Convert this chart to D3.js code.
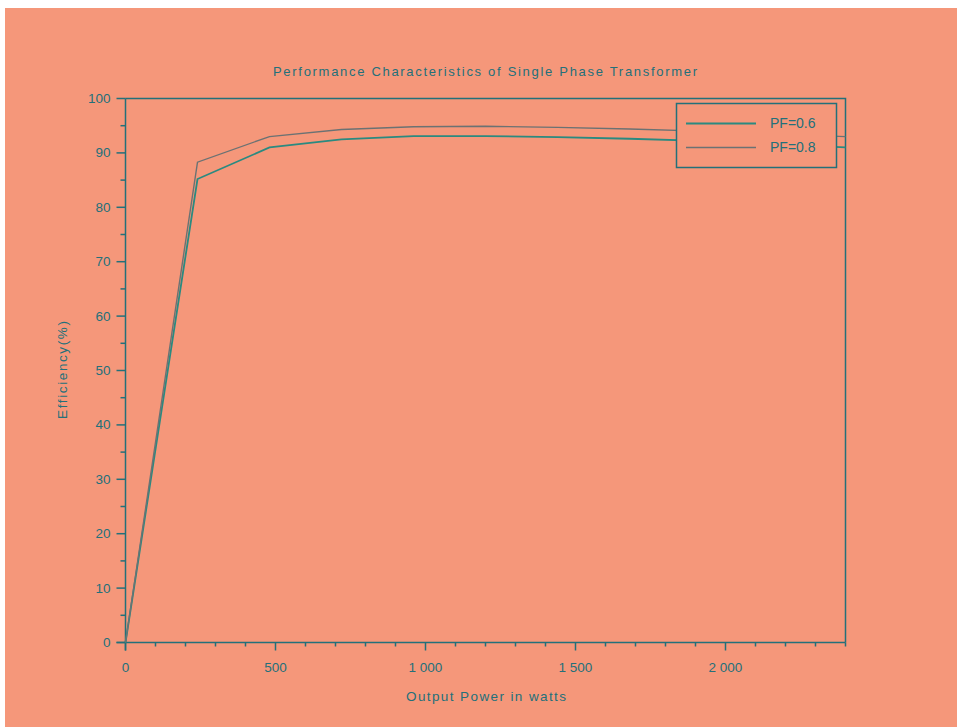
<!DOCTYPE html>
<html>
<head>
<meta charset="utf-8">
<script src="https://cdn.jsdelivr.net/npm/d3@7/dist/d3.min.js"></script>
<style>
  html, body { margin: 0; padding: 0; background: #ffffff; }
  svg { display: block; }
  text { font-family: "Liberation Sans", Arial, sans-serif; fill: #23707a; }
</style>
</head>
<body>
<script>
// ---- data ----
const outputPower = [0, 240, 480, 720, 960, 1200, 1440, 1680, 1920, 2160, 2400];
const effPF06 = [0, 85.2, 91.0, 92.5, 93.1, 93.1, 92.9, 92.6, 92.2, 91.6, 91.0];
const effPF08 = [0, 88.3, 93.0, 94.3, 94.8, 94.9, 94.7, 94.4, 94.0, 93.5, 93.0];
const seriesNames = ["PF=0.6", "PF=0.8"];
const xTicks = [0, 500, 1000, 1500, 2000];
const xTickLabels = ["0", "500", "1 000", "1 500", "2 000"];
const yTicks = [0, 10, 20, 30, 40, 50, 60, 70, 80, 90, 100];
const yTickLabels = ["0", "10", "20", "30", "40", "50", "60", "70", "80", "90", "100"];
const titleText = "Performance Characteristics of Single Phase Transformer";
const xLabelText = "Output Power in watts";
const yLabelText = "Efficiency(%)";

// ---- layout ----
const W = 957, H = 727;
const ink = "#23707a";
const colors = ["#2a8a80", "#6b7273"];
const plot = { left: 125.5, right: 845.5, top: 98.5, bottom: 642.5 };

const svg = d3.select("body").append("svg").attr("width", W).attr("height", H);
svg.append("rect").attr("x", 5).attr("y", 8).attr("width", W - 5).attr("height", H - 8).attr("fill", "#f5977a");

const x = d3.scaleLinear().domain([0, 2400]).range([plot.left, plot.right]);
const y = d3.scaleLinear().domain([0, 100]).range([plot.bottom, plot.top]);

// frame (top and right)
svg.append("path")
  .attr("d", `M${plot.left},${plot.top}H${plot.right}V${plot.bottom}`)
  .attr("fill", "none").attr("stroke", ink).attr("stroke-width", 1.5);

// x axis
const gx = svg.append("g").attr("transform", `translate(0,${plot.bottom})`);
gx.append("line").attr("x1", plot.left - 9).attr("x2", plot.right).attr("y1", 0).attr("y2", 0)
  .attr("stroke", ink).attr("stroke-width", 1.5);
const xMinor = d3.range(0, 2401, 100).filter(v => v % 500 !== 0);
gx.selectAll("line.minor").data(xMinor).join("line").attr("class", "minor")
  .attr("x1", d => x(d)).attr("x2", d => x(d)).attr("y1", 0).attr("y2", 4)
  .attr("stroke", ink).attr("stroke-width", 1.5);
gx.selectAll("line.major").data(xTicks).join("line").attr("class", "major")
  .attr("x1", d => x(d)).attr("x2", d => x(d)).attr("y1", 0).attr("y2", 8)
  .attr("stroke", ink).attr("stroke-width", 1.5);
gx.selectAll("text").data(xTicks).join("text")
  .attr("x", d => x(d)).attr("y", 29).attr("text-anchor", "middle")
  .attr("font-size", 13.5).text((d, i) => xTickLabels[i]);

// y axis
const gy = svg.append("g").attr("transform", `translate(${plot.left},0)`);
gy.append("line").attr("x1", 0).attr("x2", 0).attr("y1", plot.top).attr("y2", plot.bottom + 8)
  .attr("stroke", ink).attr("stroke-width", 1.5);
const yMinor = d3.range(5, 100, 10);
gy.selectAll("line.minor").data(yMinor).join("line").attr("class", "minor")
  .attr("x1", -5).attr("x2", 0).attr("y1", d => y(d)).attr("y2", d => y(d))
  .attr("stroke", ink).attr("stroke-width", 1.5);
gy.selectAll("line.major").data(yTicks).join("line").attr("class", "major")
  .attr("x1", -9).attr("x2", 0).attr("y1", d => y(d)).attr("y2", d => y(d))
  .attr("stroke", ink).attr("stroke-width", 1.5);
gy.selectAll("text").data(yTicks).join("text")
  .attr("x", -15).attr("y", d => y(d) + 4.5).attr("text-anchor", "end")
  .attr("font-size", 13.5).text((d, i) => yTickLabels[i]);

// lines
const line = d3.line().x((d, i) => x(outputPower[i])).y(d => y(d));
[effPF06, effPF08].forEach((s, k) => {
  svg.append("path").datum(s).attr("d", line)
    .attr("fill", "none").attr("stroke", colors[k]).attr("stroke-width", k === 0 ? 1.8 : 1.4);
});

// title and labels
svg.append("text").attr("x", 485).attr("y", 76).attr("text-anchor", "middle")
  .attr("font-size", 13).attr("textLength", 424).attr("lengthAdjust", "spacing").text(titleText);
svg.append("text").attr("x", 486).attr("y", 701).attr("text-anchor", "middle")
  .attr("font-size", 13.5).attr("textLength", 160).attr("lengthAdjust", "spacing").text(xLabelText);
svg.append("text").attr("transform", "translate(67,370) rotate(-90)").attr("text-anchor", "middle")
  .attr("font-size", 13.5).attr("textLength", 98).attr("lengthAdjust", "spacing").text(yLabelText);

// legend
const lg = svg.append("g");
lg.append("rect").attr("x", 676.5).attr("y", 103.5).attr("width", 160).attr("height", 64)
  .attr("fill", "#f5977a").attr("stroke", ink).attr("stroke-width", 1.5);
seriesNames.forEach((nm, k) => {
  const yy = 123.5 + k * 24;
  lg.append("line").attr("x1", 686).attr("x2", 756).attr("y1", yy).attr("y2", yy)
    .attr("stroke", colors[k]).attr("stroke-width", k === 0 ? 1.8 : 1.4);
  lg.append("text").attr("x", 770).attr("y", yy + 4.5).attr("font-size", 14).text(nm);
});
</script>
</body>
</html>
